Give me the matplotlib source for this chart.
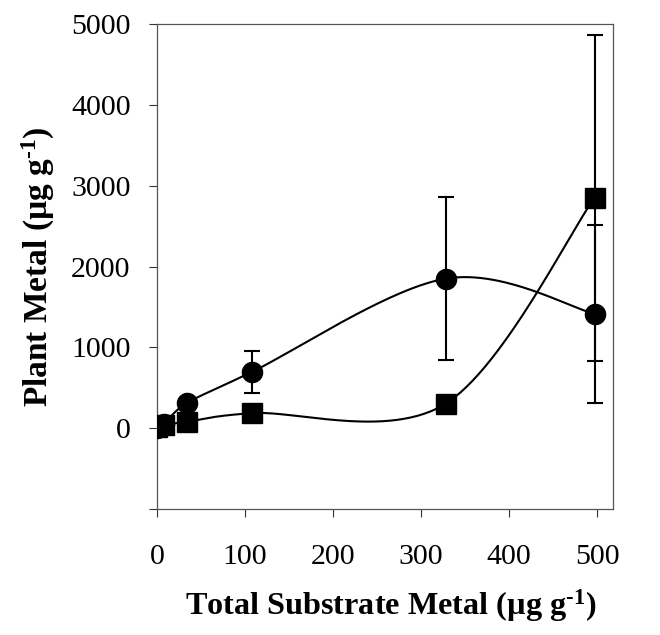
import numpy as np
import matplotlib
matplotlib.use("Agg")
import matplotlib.pyplot as plt

# ---- data ----
x_substrate = [0, 8, 34, 108, 328, 497]
circle_vals = [0, 50, 310, 697, 1850, 1415]
circle_err = [0, 0, 0, 260, 1005, 1100]
square_vals = [20, 40, 80, 186, 304, 2850]
square_err = [0, 0, 0, 0, 0, 2020]

x_ticks = [0, 100, 200, 300, 400, 500]
y_ticks = [-1000, 0, 1000, 2000, 3000, 4000, 5000]
y_ticklabels = ["", "0", "1000", "2000", "3000", "4000", "5000"]


def smooth(xs, ys, n=60):
    """Excel-like smoothed line: Catmull-Rom cubic Bezier segments."""
    p = np.column_stack([xs, ys]).astype(float)
    ext = np.vstack([p[0], p, p[-1]])
    out = []
    t = np.linspace(0, 1, n)[:, None]
    for i in range(len(p) - 1):
        p0, p1 = ext[i + 1], ext[i + 2]
        c1 = p0 + (ext[i + 2] - ext[i]) / 6.0
        c2 = p1 - (ext[i + 3] - ext[i + 1]) / 6.0
        seg = ((1 - t) ** 3) * p0 + 3 * ((1 - t) ** 2) * t * c1 + 3 * (1 - t) * t ** 2 * c2 + t ** 3 * p1
        out.append(seg if i == 0 else seg[1:])
    out = np.vstack(out)
    return out[:, 0], out[:, 1]


plt.rcParams['font.family'] = ['Liberation Serif', 'DejaVu Serif']
plt.rcParams['mathtext.fontset'] = 'custom'
plt.rcParams['mathtext.rm'] = 'Liberation Serif:bold'
plt.rcParams['mathtext.bf'] = 'Liberation Serif:bold'
plt.rcParams['mathtext.it'] = 'Liberation Serif:bold'

fig = plt.figure(figsize=(6.6, 6.35), dpi=100)
ax = fig.add_axes([0.2379, 0.1984, 0.6909, 0.7638])

for vals, errs, marker in [(circle_vals, circle_err, 'o'), (square_vals, square_err, 's')]:
    sx, sy = smooth(x_substrate, vals)
    ax.plot(sx, sy, color='black', lw=1.5, zorder=2)
    xe = [x for x, e in zip(x_substrate, errs) if e > 0]
    ye = [v for v, e in zip(vals, errs) if e > 0]
    ee = [e for e in errs if e > 0]
    ax.errorbar(xe, ye, yerr=ee, fmt='none', ecolor='black', elinewidth=1.5,
                capsize=6, capthick=1.5, zorder=3)
    ax.plot(x_substrate, vals, linestyle='none', marker=marker, ms=14.5,
            color='black', zorder=4)

ax.set_xlim(0, 518)
ax.set_ylim(-1000, 5000)
ax.set_xticks(x_ticks)
ax.set_yticks(y_ticks)
ax.set_yticklabels(y_ticklabels)
ax.tick_params(axis='both', direction='out', length=6, width=0.8, labelsize=21.5, color='#333333')
ax.tick_params(axis='x', pad=19.5)
ax.tick_params(axis='y', pad=13)
for s in ax.spines.values():
    s.set_color('#555555')
    s.set_linewidth(0.9)

ax.set_xlabel(r'Total Substrate Metal (µg g$^{\text{-1}}$)', fontsize=23.2, fontweight='bold', labelpad=12)
ax.xaxis.label.set_x(0.513)
ax.set_ylabel(r'Plant Metal (µg g$^{\text{-1}}$)', fontsize=24, fontweight='bold', labelpad=10)

fig.savefig('out.png', dpi=100)
